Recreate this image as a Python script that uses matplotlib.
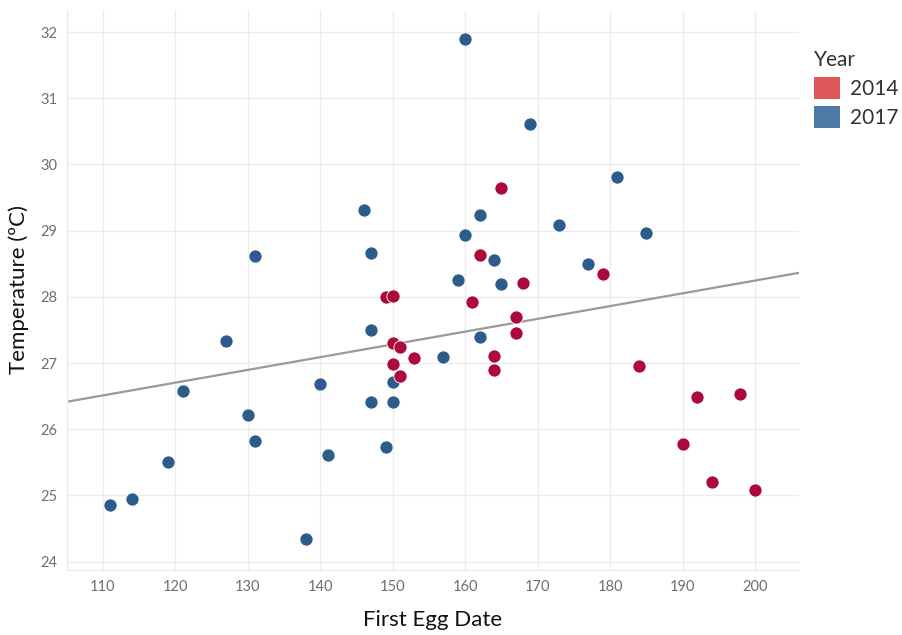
import matplotlib
matplotlib.use("Agg")
import matplotlib.pyplot as plt
import numpy as np
from matplotlib.patches import Patch

# 2017 (blue)
x_2017 = [111, 114, 119, 121, 127, 130, 131, 131, 138, 140, 141, 147, 147, 147, 146,
          149, 150, 150, 157, 159, 160, 160, 162, 162, 164, 165, 169, 173, 177, 181, 185]
y_2017 = [24.86, 24.95, 25.51, 26.58, 27.33, 26.21, 25.83, 28.61, 24.35, 26.68, 25.61,
          27.50, 26.41, 28.66, 29.31, 25.73, 26.71, 26.41, 27.09, 28.25, 28.93, 31.89,
          29.23, 27.40, 28.55, 28.20, 30.61, 29.08, 28.49, 29.81, 28.96]

# 2014 (red)
x_2014 = [149, 150, 150, 151, 150, 151, 153, 161, 162, 165, 164, 164, 167, 167, 168,
          179, 184, 190, 192, 194, 198, 200]
y_2014 = [28.00, 28.02, 27.30, 27.25, 26.98, 26.81, 27.08, 27.92, 28.63, 29.65, 27.11,
          26.89, 27.70, 27.46, 28.21, 28.34, 26.96, 25.78, 26.49, 25.21, 26.53, 25.08]

years = ["2014", "2017"]
x_ticks = [110, 120, 130, 140, 150, 160, 170, 180, 190, 200]
y_ticks = [24, 25, 26, 27, 28, 29, 30, 31, 32]

plt.rcParams['font.family'] = ['Lato', 'DejaVu Sans']

fig = plt.figure(figsize=(9.02, 6.35), dpi=100)
ax = fig.add_axes([0.074, 0.1024, 0.812, 0.8826])

grid_c = "#ececec"
ax.set_axisbelow(True)
ax.grid(True, color=grid_c, linewidth=1.0)
for s in ["top", "right"]:
    ax.spines[s].set_visible(False)
for s in ["left", "bottom"]:
    ax.spines[s].set_color(grid_c)
    ax.spines[s].set_linewidth(1.0)

# trend line on all data
all_x = np.array(x_2017 + x_2014, dtype=float)
all_y = np.array(y_2017 + y_2014, dtype=float)
slope, intercept = np.polyfit(all_x, all_y, 1)
xl = np.array([105, 206.1])
ax.plot(xl, slope * xl + intercept, color="#9a9a9a", linewidth=1.6, zorder=2)

pt_blue = "#2d5b8a"
pt_red = "#ac0a3a"
ax.scatter(x_2017, y_2017, s=90, color=pt_blue, edgecolor="white", linewidth=0.6, zorder=3)
ax.scatter(x_2014, y_2014, s=90, color=pt_red, edgecolor="white", linewidth=0.6, zorder=4)

ax.set_xlim(105, 206.1)
ax.set_ylim(23.875, 32.34)
ax.set_xticks(x_ticks)
ax.set_yticks(y_ticks)
ax.tick_params(length=0, labelsize=10.5, labelcolor="#6e6e6e", pad=7)

ax.set_xlabel("First Egg Date", fontsize=16, color="#111111", labelpad=12)
ax.set_ylabel("Temperature (ºC)", fontsize=16, color="#111111", labelpad=8)

handles = [Patch(facecolor="#e15759", edgecolor="none"),
           Patch(facecolor="#4e79a7", edgecolor="none")]
leg = fig.legend(handles, years, title="Year", loc="upper left",
                 bbox_to_anchor=(0.893, 0.935), frameon=False,
                 fontsize=15, title_fontsize=15, handlelength=1.25, handleheight=1.25,
                 handletextpad=0.5, labelspacing=0.35, borderaxespad=0)
leg._legend_box.align = "left"
for t in leg.get_texts():
    t.set_color("#333333")
leg.get_title().set_color("#333333")

fig.savefig("out.png", dpi=100)
